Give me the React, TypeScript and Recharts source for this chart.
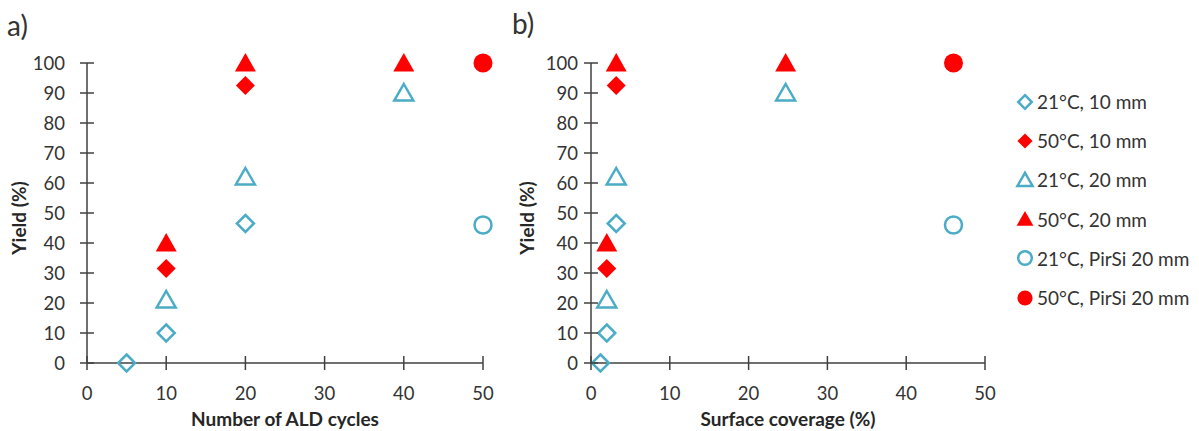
import React from "react";
import { ScatterChart, Scatter, XAxis, YAxis, Legend } from "recharts";

const BLUE = "#4BACC6";
const RED = "#FF0000";
const INK = "#333333";
const AXIS = "#404040";
const FONT = "Lato, 'Open Sans', sans-serif";

const seriesNames = [
  "21°C, 10 mm",
  "50°C, 10 mm",
  "21°C, 20 mm",
  "50°C, 20 mm",
  "21°C, PirSi 20 mm",
  "50°C, PirSi 20 mm",
];

// panel a) x = number of ALD cycles
const cycles21_10 = [5, 10, 20];
const cycles50_10 = [10, 20];
const cycles21_20 = [10, 20, 40];
const cycles50_20 = [10, 20, 40];
const cycles21_pir = [50];
const cycles50_pir = [50];

// panel b) x = surface coverage (%)
const coverage21_10 = [1.2, 2.0, 3.2];
const coverage50_10 = [2.0, 3.2];
const coverage21_20 = [2.0, 3.2, 24.7];
const coverage50_20 = [2.0, 3.2, 24.7];
const coverage21_pir = [46];
const coverage50_pir = [46];

// yield (%) shared by both panels
const yield21_10 = [0, 10, 46.5];
const yield50_10 = [31.5, 92.5];
const yield21_20 = [21, 62, 90];
const yield50_20 = [40, 100, 100];
const yield21_pir = [46];
const yield50_pir = [100];

const xTicks = [0, 10, 20, 30, 40, 50];
const yTicks = [0, 10, 20, 30, 40, 50, 60, 70, 80, 90, 100];

const yields = [yield21_10, yield50_10, yield21_20, yield50_20, yield21_pir, yield50_pir];
const cyclesX = [cycles21_10, cycles50_10, cycles21_20, cycles50_20, cycles21_pir, cycles50_pir];
const coverageX = [coverage21_10, coverage50_10, coverage21_20, coverage50_20, coverage21_pir, coverage50_pir];

type Kind = "diamond" | "triangle" | "circle";
const styles: { kind: Kind; filled: boolean }[] = [
  { kind: "diamond", filled: false },
  { kind: "diamond", filled: true },
  { kind: "triangle", filled: false },
  { kind: "triangle", filled: true },
  { kind: "circle", filled: false },
  { kind: "circle", filled: true },
];

const zip = (xs: number[], ys: number[]) => xs.map((x, i) => ({ x, y: ys[i] }));

function Marker({ cx, cy, kind, filled, scale = 1 }: { cx: number; cy: number; kind: Kind; filled: boolean; scale?: number }) {
  const color = filled ? RED : BLUE;
  const paint = filled
    ? { fill: color, stroke: "none" }
    : { fill: "none", stroke: color, strokeWidth: 2.5 };
  if (kind === "diamond") {
    const r = (filled ? 9.5 : 8.5) * scale;
    return <polygon points={`${cx},${cy - r} ${cx + r},${cy} ${cx},${cy + r} ${cx - r},${cy}`} {...paint} />;
  }
  if (kind === "triangle") {
    const w = (filled ? 10.5 : 9.5) * scale;
    const t = (filled ? 10 : 9) * scale;
    const b = (filled ? 8.5 : 7.5) * scale;
    return <polygon points={`${cx},${cy - t} ${cx + w},${cy + b} ${cx - w},${cy + b}`} {...paint} />;
  }
  return <circle cx={cx} cy={cy} r={(filled ? 9.5 : 8.5) * scale} {...paint} />;
}

const YTick = (props: any) => {
  const { x, y, payload, gap } = props;
  return (
    <g>
      <line x1={x - 7} x2={x + 7} y1={y} y2={y} stroke={AXIS} strokeWidth={1.5} />
      <text x={x - gap} y={y} textAnchor="end" dominantBaseline="central" fontSize={18.5} fill={INK} fontFamily={FONT}>
        {payload.value}
      </text>
    </g>
  );
};

const XTick = (props: any) => {
  const { x, y, payload } = props;
  return (
    <g>
      <line x1={x} x2={x} y1={y - 7} y2={y + 7} stroke={AXIS} strokeWidth={1.5} />
      <text x={x} y={y + 30} textAnchor="middle" dominantBaseline="central" fontSize={18.5} fill={INK} fontFamily={FONT}>
        {payload.value}
      </text>
    </g>
  );
};

function LegendBox() {
  return (
    <div style={{ fontFamily: FONT, fontSize: 19, color: INK }}>
      {seriesNames.map((name, i) => (
        <div key={name} style={{ height: 39.2, display: "flex", alignItems: "center", whiteSpace: "nowrap" }}>
          <svg width={25} height={22} style={{ display: "block" }}>
            <Marker cx={13} cy={11} kind={styles[i].kind} filled={styles[i].filled} scale={0.8} />
          </svg>
          <span>{name}</span>
        </div>
      ))}
    </div>
  );
}

function Panel({
  xs,
  xLabel,
  width,
  marginRight,
  tickGap,
  yLabelX,
  legend,
}: {
  xs: number[][];
  xLabel: string;
  width: number;
  marginRight: number;
  tickGap: number;
  yLabelX: number;
  legend?: boolean;
}) {
  return (
    <ScatterChart width={width} height={431} margin={{ top: 63, right: marginRight, bottom: 6, left: 0 }}>
      <XAxis
        type="number"
        dataKey="x"
        domain={[0, 50]}
        ticks={xTicks}
        height={62}
        tickSize={0}
        tickMargin={0}
        tickLine={false}
        axisLine={{ stroke: AXIS, strokeWidth: 1.5 }}
        tick={<XTick />}
        label={{
          content: (p: any) => {
            const vb = p.viewBox;
            return (
              <text x={vb.x + vb.width / 2} y={vb.y + 55} textAnchor="middle" dominantBaseline="central" fontSize={19} fontWeight="bold" fill="#262626" fontFamily={FONT}>
                {xLabel}
              </text>
            );
          },
        }}
      />
      <YAxis
        type="number"
        dataKey="y"
        domain={[0, 100]}
        ticks={yTicks}
        width={87}
        tickSize={0}
        tickMargin={0}
        tickLine={false}
        axisLine={{ stroke: AXIS, strokeWidth: 1.5 }}
        tick={<YTick gap={tickGap} />}
        label={{
          content: (p: any) => {
            const vb = p.viewBox;
            const cy = vb.y + vb.height / 2 + 5;
            return (
              <text x={yLabelX} y={cy} transform={`rotate(-90 ${yLabelX} ${cy})`} textAnchor="middle" dominantBaseline="central" fontSize={19} fontWeight="bold" fill="#262626" fontFamily={FONT}>
                Yield (%)
              </text>
            );
          },
        }}
      />
      {seriesNames.map((name, i) => (
        <Scatter
          key={name}
          name={name}
          data={zip(xs[i], yields[i])}
          isAnimationActive={false}
          shape={(p: any) => <Marker cx={p.cx} cy={p.cy} kind={styles[i].kind} filled={styles[i].filled} />}
        />
      ))}
      {legend && (
        <Legend
          layout="horizontal"
          verticalAlign="middle"
          align="center"
          wrapperStyle={{ left: 508, top: 82, width: 190, height: 240 }}
          content={() => <LegendBox />}
        />
      )}
    </ScatterChart>
  );
}

export default function App() {
  return (
    <div style={{ position: "absolute", left: 0, top: 0, width: 1199, height: 431, background: "#fff", fontFamily: FONT }}>
      <div style={{ position: "absolute", left: 7, top: 11, fontSize: 28, lineHeight: "28px", color: INK }}>a)</div>
      <div style={{ position: "absolute", left: 512, top: 9, fontSize: 28, lineHeight: "28px", color: INK }}>b)</div>
      <div style={{ position: "absolute", left: 0, top: 0 }}>
        <Panel xs={cyclesX} xLabel="Number of ALD cycles" width={510} marginRight={27} tickGap={22} yLabelX={18} />
      </div>
      <div style={{ position: "absolute", left: 504, top: 0 }}>
        <Panel xs={coverageX} xLabel="Surface coverage (%)" width={695} marginRight={214} tickGap={13} yLabelX={22} legend />
      </div>
    </div>
  );
}
